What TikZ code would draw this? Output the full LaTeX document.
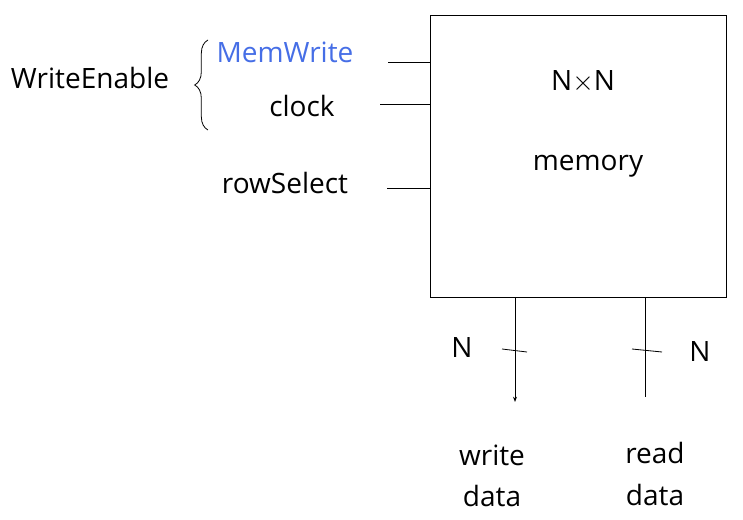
\documentclass[tikz,border=0pt]{standalone}
\usepackage{fontspec}
\setmainfont{Open Sans}
\usetikzlibrary{calc, arrows.meta, decorations.pathreplacing}
\definecolor{memblue}{RGB}{70,110,230}
\tikzset{
  lbl/.style={font=\fontsize{21}{31}\selectfont, inner sep=0pt},
  wire/.style={line width=0.6pt},
}
\begin{document}
\begin{tikzpicture}[x=0.75pt, y=-0.75pt]
  \useasboundingbox (0,0) rectangle (743,520);
  % memory block
  \node[draw, line width=0.6pt, minimum width=222pt, minimum height=212pt, inner sep=0pt] (mem) at (578,156.5) {};
  \node[lbl] (size) at (583,82) {N$\times$N};
  \node[lbl] (memtxt) at (588,166) {memory};
  % inputs
  \coordinate (mwIn) at (388,62);
  \coordinate (clkIn) at (380,104);
  \coordinate (rsIn) at (387,188);
  \draw[wire] (mwIn) -- (mwIn -| mem.west);
  \draw[wire] (clkIn) -- (clkIn -| mem.west);
  \draw[wire] (rsIn) -- (rsIn -| mem.west);
  \node[lbl, text=memblue] (memwrite) at (285,52) {MemWrite};
  \node[lbl] (clock) at (302,106) {clock};
  \node[lbl] (rowsel) at (285,183) {rowSelect};
  \node[lbl] (wenable) at (90,78) {WriteEnable};
  \draw[wire, decorate, decoration={brace, amplitude=10pt}] (208,130) -- (208,40);
  % outputs
  \coordinate (wdOut) at (515,402);
  \coordinate (rdOut) at (645,397);
  \draw[wire, -{Stealth[length=4pt]}] (wdOut |- mem.south) -- (wdOut);
  \draw[wire] (rdOut |- mem.south) -- (rdOut);
  \coordinate (wdTick) at (515,350);
  \coordinate (rdTick) at (645,350);
  \draw[wire] ($(wdTick)+(-13,-1)$) -- ($(wdTick)+(12,2)$);
  \draw[wire] ($(rdTick)+(-13,-1)$) -- ($(rdTick)+(17,2)$);
  \node[lbl] (wdN) at (462,348) {N};
  \node[lbl] (rdN) at (700,352) {N};
  \node[lbl, align=center] (wdata) at (492,476) {write\\data};
  \node[lbl, align=center] (rdata) at (655,474) {read\\data};
\end{tikzpicture}
\end{document}
